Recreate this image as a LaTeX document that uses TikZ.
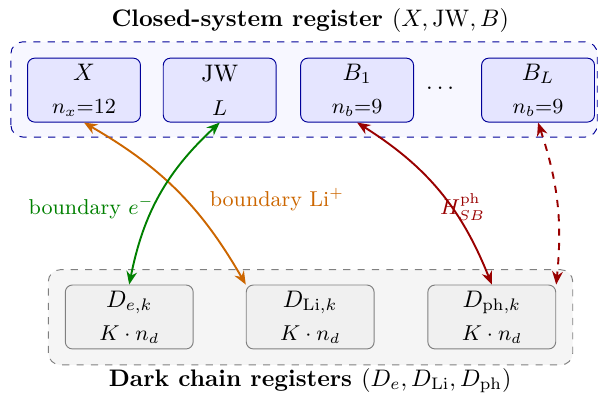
\documentclass[tikz,border=0pt]{standalone}
\usepackage{amsmath}
\usetikzlibrary{arrows.meta,positioning,calc}

\begin{document}
\begin{tikzpicture}[thick,>={Stealth[length=5.5pt,width=4.5pt]},
    sysbox/.style={draw=blue!60!black,thin,fill=blue!10,rounded corners=3pt,
        minimum width=1.66cm,minimum height=0.94cm,align=center,inner sep=1pt},
    darkbox/.style={draw=black!50,thin,fill=black!6,rounded corners=3pt,
        minimum width=1.88cm,minimum height=0.94cm,align=center,inner sep=1pt},
    eline/.style={green!50!black},
    liline/.style={orange!80!black},
    phline/.style={red!60!black}]
    \useasboundingbox (0,0) rectangle (8.85,5.865);

    % containers
    \draw[blue!60!black,thin,dashed,fill=blue!3,rounded corners=5pt] (0.16,3.85) rectangle (8.78,5.25);
    \draw[black!50,thin,dashed,fill=black!4,rounded corners=5pt] (0.71,0.50) rectangle (8.42,1.90);
    \node[font=\bfseries] (systitle) at (4.56,5.57) {Closed-system register $(X,\mathrm{JW},B)$};
    \node[font=\bfseries] (darktitle) at (4.56,0.27) {Dark chain registers $(D_e,D_{\mathrm{Li}},D_{\mathrm{ph}})$};

    % closed-system registers
    \node[sysbox] (X) at (1.235,4.54) {$X$\\[2pt]{\small $n_x$=12}};
    \node[sysbox] (JW) at (3.23,4.54) {JW\\[2pt]{\small $L$}};
    \node[sysbox] (B1) at (5.25,4.54) {$B_1$\\[2pt]{\small $n_b$=9}};
    \node (dots) at (6.50,4.57) {$\dots$};
    \node[sysbox] (BL) at (7.91,4.54) {$B_L$\\[2pt]{\small $n_b$=9}};

    % dark chains
    \node[darkbox] (De) at (1.90,1.205) {$D_{e,k}$\\[2pt]{\small $K\cdot n_d$}};
    \node[darkbox] (DLi) at (4.56,1.205) {$D_{\mathrm{Li},k}$\\[2pt]{\small $K\cdot n_d$}};
    \node[darkbox] (Dph) at (7.23,1.205) {$D_{\mathrm{ph},k}$\\[2pt]{\small $K\cdot n_d$}};

    % couplings
    \draw[<->,liline] (X.south) to[bend left=15] (DLi.north west);
    \draw[<->,eline] (JW.south) to[bend right=18] (De.north);
    \draw[<->,phline] (B1.south) to[bend left=18] (Dph.north);
    \draw[<->,phline,dashed] (BL.south) to[bend left=12] (Dph.north east);

    \node[eline,font=\small] (elabel) at (1.34,2.81) {boundary $e^{-}$};
    \node[liline,font=\small] (lilabel) at (4.07,2.93) {boundary Li$^{+}$};
    \node[phline,font=\small] (phlabel) at (6.80,2.82) {$H_{SB}^{\mathrm{ph}}$};
\end{tikzpicture}
\end{document}
